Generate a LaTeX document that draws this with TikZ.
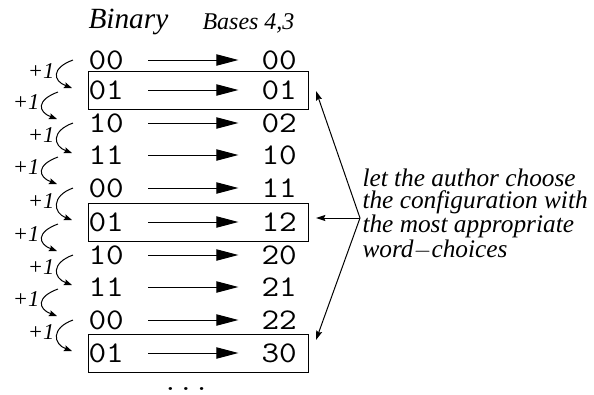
\documentclass[tikz,border=0pt]{standalone}
\usepackage{fontspec}
\setmainfont{Liberation Serif}
\newfontfamily\digitfont[FakeStretch=1.14]{Latin Modern Mono}
\usetikzlibrary{calc, positioning, arrows.meta}

\tikzset{
  digits/.style={font=\digitfont\fontsize{22.5}{22.5}\selectfont, inner sep=0pt, anchor=west},
  mapto/.style={-{Triangle[length=16.5pt, width=8.5pt]}, shorten <=18pt, shorten >=17pt},
  countup/.style={-{Stealth[length=6pt, width=4.5pt, inset=1pt]}},
  pick/.style={-{Stealth[length=7pt, width=4.5pt, inset=1pt]}},
  incr/.style={font=\itshape\fontsize{17}{17}\selectfont, inner sep=0pt, anchor=east},
  choicebox/.style={draw, minimum width=165pt, minimum height=28.5pt, anchor=west, inner sep=0pt},
}

\begin{document}
\begin{tikzpicture}[x=0.75pt, y=-0.75pt, line width=0.75pt]
  \useasboundingbox (0,0) rectangle (594,394);

  % column heads
  \node[font=\itshape\fontsize{22}{22}\selectfont, anchor=base west, inner sep=0pt] (hbin) at (88,28) {Binary};
  \node[font=\itshape\fontsize{18}{18}\selectfont, anchor=base west, inner sep=0pt] (hbase) at (202,29) {Bases 4,3};

  % counter values and their mixed-radix images
  \foreach \n/\y/\bin/\base in {
    1/60/00/00, 2/90/01/01, 3/123/10/02, 4/155/11/10, 5/188/00/11,
    6/222/01/12, 7/255/10/20, 8/287/11/21, 9/320/00/22, 10/353/01/30} {
    \node[digits] (b\n) at (88,\y) {\bin};
    \node[digits] (t\n) at (261,\y) {\base};
    \draw[mapto] (b\n) -- (t\n);
  }
  \node[font=\digitfont\fontsize{20}{20}\selectfont, anchor=base, inner sep=0pt] (more) at (186,390) {...};

  % boxed configurations
  \foreach \n/\k in {2/1, 6/2, 10/3}
    \node[choicebox] (box\k) at (b\n.west) {};

  % increments
  \foreach \n/\m in {1/2, 3/4, 5/6, 7/8, 9/10} {
    \draw[countup] ($(b\n.west)+(-15,0)$) .. controls +(-22,8) and +(-19,-7) .. ($(b\m.west)+(-16,-2)$);
    \node[incr] at ($(b\n.west)!0.5!(b\m.west)+(-33,-4)$) {+1};
  }
  \foreach \n/\m in {2/3, 4/5, 6/7, 8/9} {
    \draw[countup] ($(b\n.west)+(-30,2)$) .. controls +(-22,8) and +(-19,-7) .. ($(b\m.west)+(-31,-4)$);
    \node[incr] at ($(b\n.west)!0.5!(b\m.west)+(-48,-4)$) {+1};
  }

  % the note
  \node[font=\itshape\fontsize{19}{16.5}\selectfont, align=left, anchor=west, inner sep=0pt] (note) at (362,214)
    {let the author choose\\the configuration with\\the most appropriate\\word$-$choices};
  \coordinate (fan) at ($(note.west)+(-2,4)$);
  \draw[pick] (fan) -- ($(box1.east)+(7,1)$);
  \draw[pick] (fan) -- ($(box2.east)+(7,-4)$);
  \draw[pick] (fan) -- ($(box3.east)+(7,-13)$);
\end{tikzpicture}
\end{document}
